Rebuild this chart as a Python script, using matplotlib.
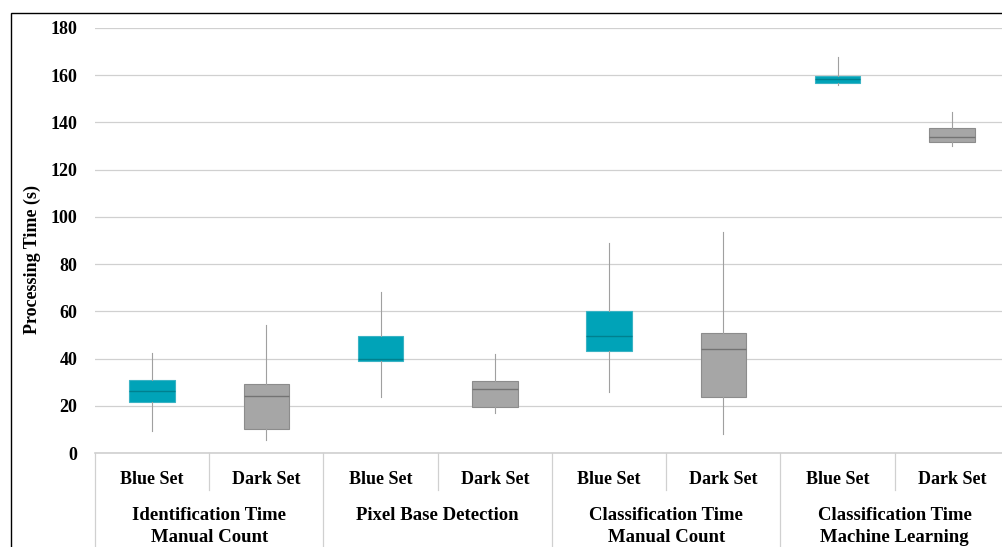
import matplotlib
matplotlib.use("Agg")
import matplotlib.pyplot as plt
from matplotlib.patches import Rectangle

plt.rcParams['font.family'] = ['Liberation Serif', 'DejaVu Serif']

sets = ["Blue Set", "Dark Set"] * 4
groups = ["Identification Time\nManual Count", "Pixel Base Detection",
          "Classification Time\nManual Count", "Classification Time\nMachine Learning"]
whislo = [9.3, 5.5, 23.6, 16.8, 25.7, 7.9, 155.9, 129.9]
q1 = [21.7, 10.2, 38.8, 19.4, 43.1, 23.6, 156.8, 131.6]
med = [26.1, 24.0, 39.9, 27.0, 49.4, 43.9, 158.2, 133.7]
q3 = [30.8, 29.1, 49.4, 30.5, 60.3, 50.7, 159.8, 137.8]
whishi = [42.2, 54.2, 68.1, 41.8, 88.8, 93.7, 167.8, 144.4]
yticks = [0, 20, 40, 60, 80, 100, 120, 140, 160, 180]

blue = "#00A3B8"
gray = "#A6A6A6"

W, H = 1003, 547
fig = plt.figure(figsize=(W / 100, H / 100), dpi=100)
fig.patches.append(Rectangle((11 / W, -0.1), 1.2, 1 - 13 / H + 0.1, transform=fig.transFigure,
                             fill=False, edgecolor="black", linewidth=1.0))

ax = fig.add_axes([95 / W, (H - 453) / H, (1009 - 95) / W, 425 / H])
stats = []
for i in range(8):
    stats.append(dict(whislo=whislo[i], q1=q1[i], med=med[i], q3=q3[i], whishi=whishi[i], fliers=[]))
bp = ax.bxp(stats, positions=list(range(8)), widths=0.4, patch_artist=True, showcaps=False,
            manage_ticks=False)
for i, box in enumerate(bp['boxes']):
    if i % 2 == 0:
        box.set_facecolor(blue)
        box.set_edgecolor("#3AB3C4")
        bp['medians'][i].set_color("#00808F")
    else:
        box.set_facecolor(gray)
        box.set_edgecolor("#8C8C8C")
        bp['medians'][i].set_color("#737373")
    box.set_linewidth(0.8)
    bp['medians'][i].set_linewidth(1.0)
for w in bp['whiskers']:
    w.set_color("#A0A0A0")
    w.set_linewidth(0.8)

ax.set_xlim(-0.5, 7.5)
ax.set_ylim(0, 180)
ax.set_yticks(yticks)
ax.set_yticklabels([str(t) for t in yticks], fontsize=13, fontweight="bold")
ax.tick_params(axis="y", length=0, pad=12.8)
ax.set_xticks([])
for s in ax.spines.values():
    s.set_visible(False)
ax.grid(axis="y", color="#D0D0D0", linewidth=0.9)
ax.set_axisbelow(True)
ax.axhline(0, color="#D0D0D0", linewidth=1.2, clip_on=False)
ax.set_ylabel("Processing Time (s)", fontsize=13, fontweight="bold")
ax.yaxis.set_label_coords((41 - 95) / 914, (453 - 259) / 425)

def fy(py):
    return (453 - py) / 425

tr = ax.get_xaxis_transform()
for i, s in enumerate(sets):
    ax.text(i, fy(480), s, ha="center", va="center", fontsize=13, fontweight="bold", transform=tr)
for g, name in enumerate(groups):
    lines = name.split("\n")
    for k, ln in enumerate(lines):
        ax.text(2 * g + 0.5, fy(516 + 22 * k), ln, ha="center", va="center", fontsize=13.5,
                fontweight="bold", transform=tr)
for j in range(9):
    x = j - 0.5
    if j % 2 == 0:
        ax.plot([x, x], [0, fy(560)], color="#D0D0D0", linewidth=0.9, transform=tr, clip_on=False)
    else:
        ax.plot([x, x], [0, fy(490)], color="#D0D0D0", linewidth=0.9, transform=tr, clip_on=False)

fig.savefig("out.png", dpi=100)
